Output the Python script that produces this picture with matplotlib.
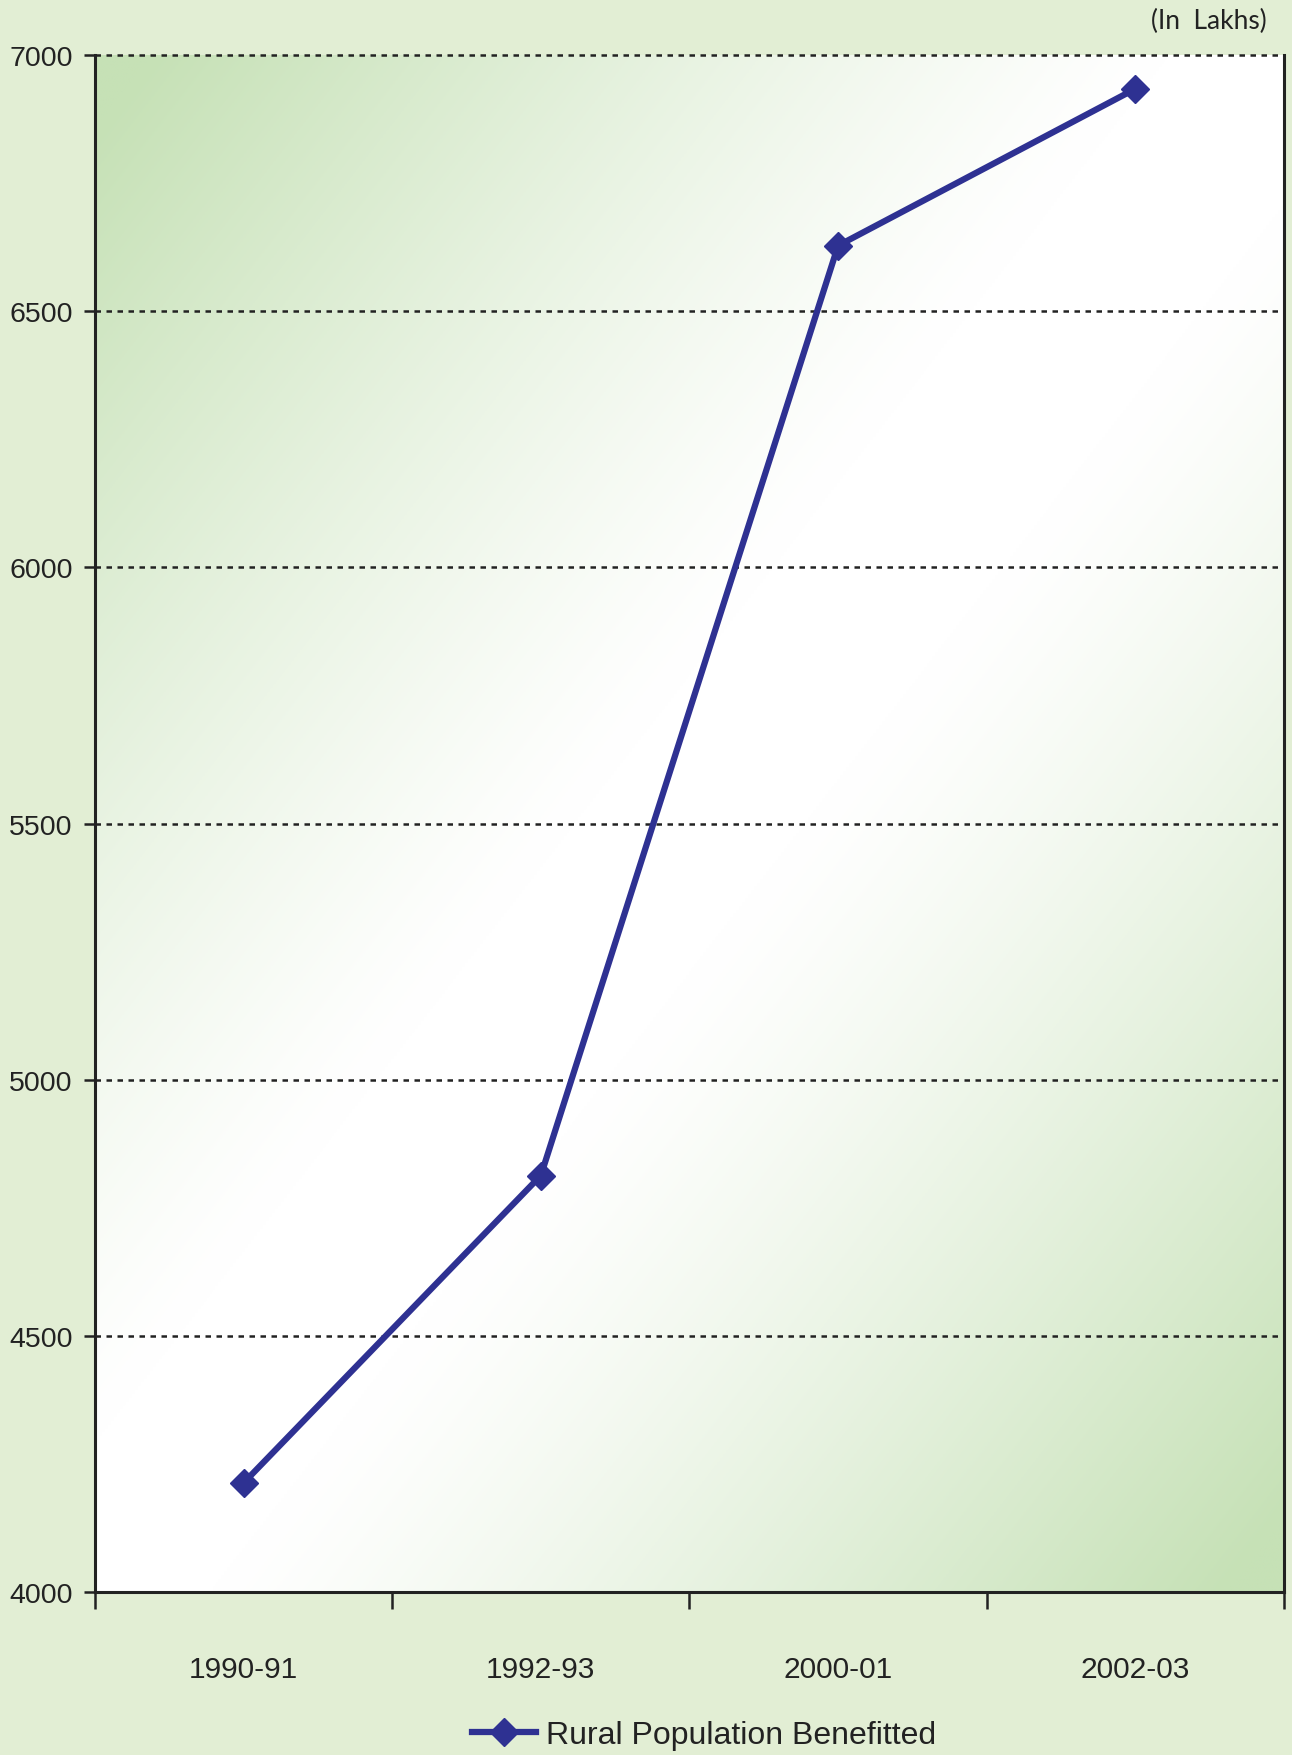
import numpy as np
import matplotlib
matplotlib.use("Agg")
import matplotlib.pyplot as plt
from matplotlib.colors import to_rgb

categories = ["1990-91", "1992-93", "2000-01", "2002-03"]
values = [4213, 4813, 6628, 6934]
series_name = "Rural Population Benefitted"
y_ticks = [4000, 4500, 5000, 5500, 6000, 6500, 7000]
unit_label = "(In  Lakhs)"

plt.rcParams["font.family"] = ["Liberation Sans", "DejaVu Sans"]

fig_bg = "#E2EED4"
green = np.array(to_rgb("#C6E1B6"))
white = np.array([1.0, 1.0, 1.0])
line_color = "#2E3192"

fig = plt.figure(figsize=(12.92, 17.56), dpi=100, facecolor=fig_bg)
ax = fig.add_axes([0.0735, 0.0928, 0.9203, 0.8753])
ax.set_facecolor("white")

# diagonal gradient background
n = 400
xx, yy = np.meshgrid(np.linspace(0, 1, n), np.linspace(1, 0, n))
t = (xx - yy + 1) / 2.0  # 0 at top-left, 1 at bottom-right
inten = np.abs(2 * t - 1)
inten = np.clip((inten - 0.1) / 0.85, 0, 1) ** 1.2
img = white[None, None, :] * (1 - inten[..., None]) + green[None, None, :] * inten[..., None]
ax.imshow(img, extent=[0, 1, 0, 1], transform=ax.transAxes, aspect="auto", zorder=0)

x = np.arange(len(categories))
ax.set_xlim(-0.5, len(categories) - 0.5)
ax.set_ylim(y_ticks[0], y_ticks[-1])

for yv in y_ticks[1:]:
    ax.axhline(yv, color="#222222", lw=1.8, linestyle=(0, (2.2, 2.2)), zorder=1, clip_on=False)

ax.plot(x, values, color=line_color, lw=4.5, marker="D", markersize=14,
        markeredgewidth=1, markeredgecolor=line_color, zorder=3, label=series_name)

ax.set_yticks(y_ticks)
ax.set_yticklabels([str(v) for v in y_ticks], fontsize=20.5, color="#222222")
ax.set_xticks(np.arange(-0.5, len(categories), 1.0))
ax.set_xticklabels([])
ax.set_xticks(x, minor=True)
ax.set_xticklabels(categories, minor=True, fontsize=21.5, color="#222222")
ax.tick_params(axis="x", which="major", direction="out", length=12, width=1.8, color="#222222")
ax.tick_params(axis="x", which="minor", length=0, pad=45)
ax.tick_params(axis="y", direction="out", length=8, width=1.8, color="#222222", pad=8)

for side in ["left", "bottom", "right"]:
    ax.spines[side].set_color("#222222")
    ax.spines[side].set_linewidth(2.2)
ax.spines["top"].set_visible(False)

fig.text(0.936, 0.9875, unit_label, fontsize=19, family="Lato", color="#222222",
         ha="center", va="center")

leg = fig.legend(loc="center", bbox_to_anchor=(0.545, 0.0115), frameon=False,
                 fontsize=23, handlelength=2.0, handletextpad=0.3)
for t_ in leg.get_texts():
    t_.set_color("#222222")

fig.savefig("out.png", dpi=100, facecolor=fig_bg)
